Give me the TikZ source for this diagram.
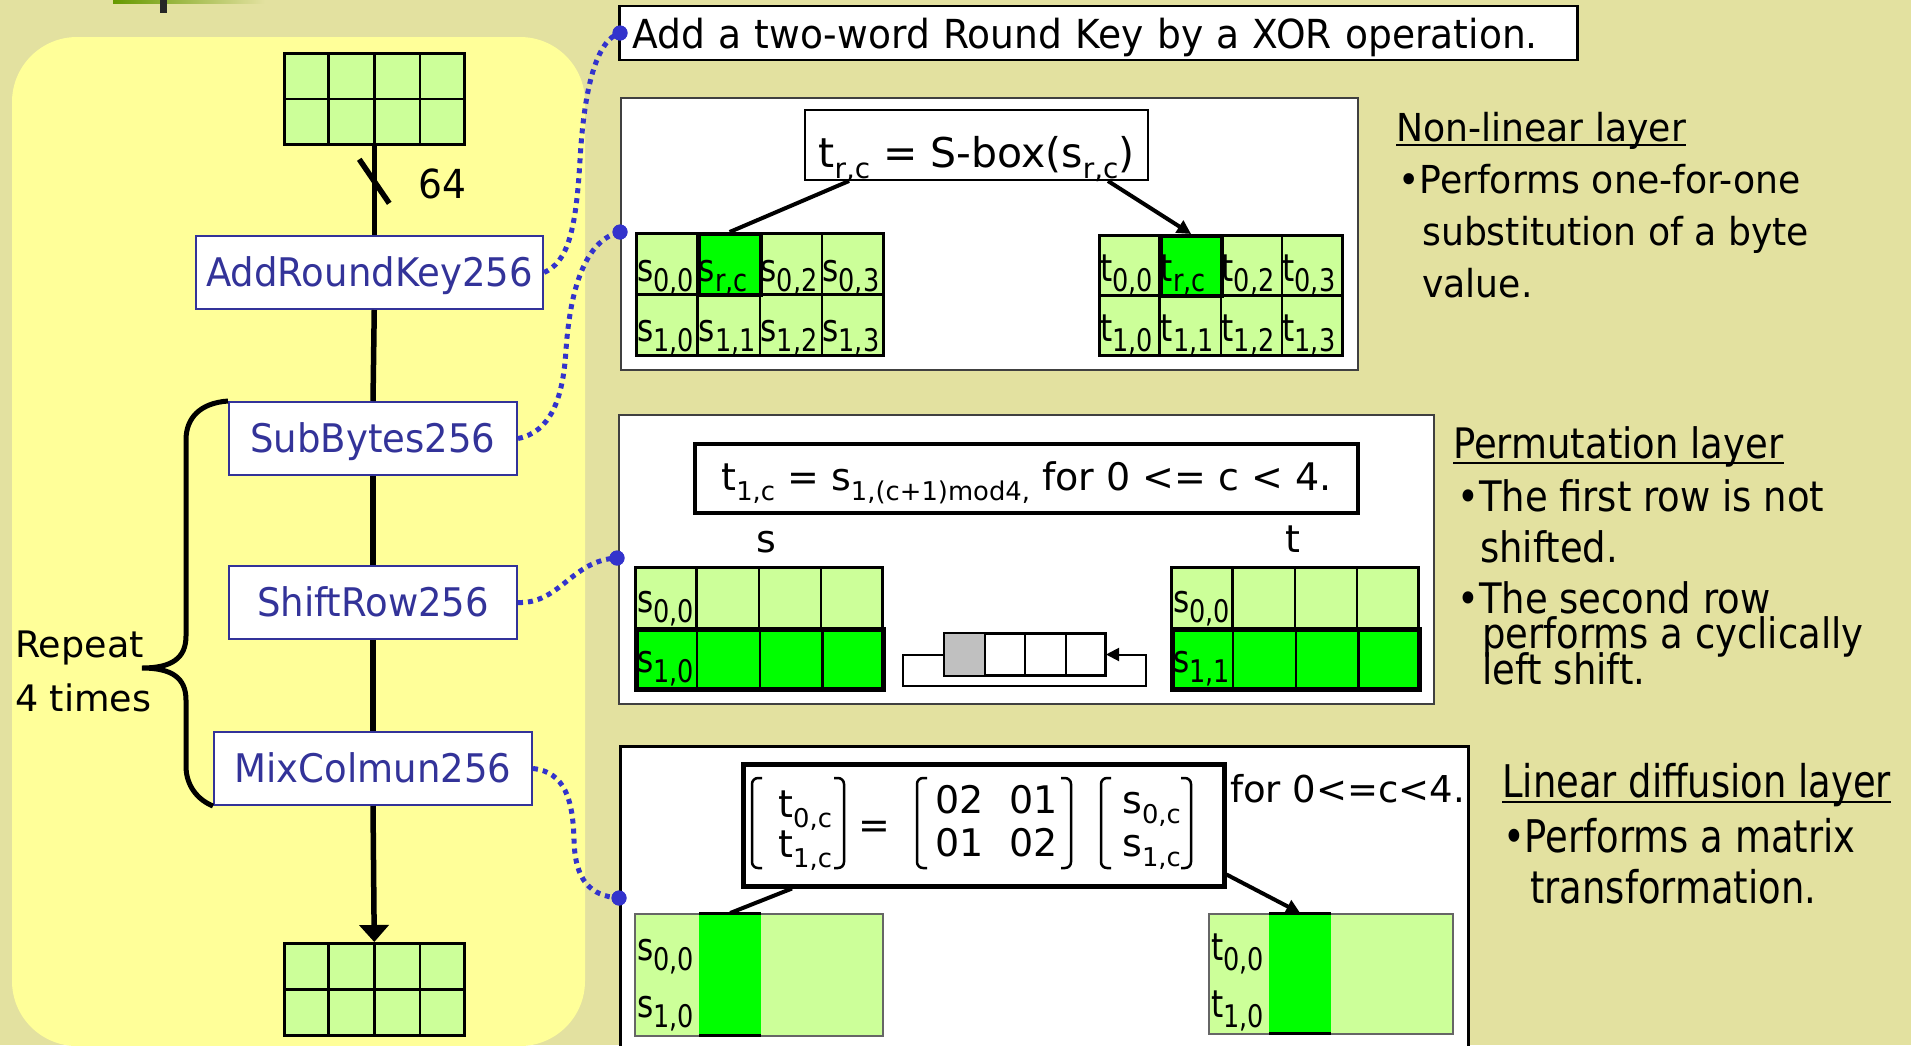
\documentclass[tikz,border=0pt]{standalone}
\usepackage{fontspec}
\usepackage{graphicx}
\setmainfont{DejaVu Sans}
\newfontfamily\ftA{DejaVu Sans}[FakeStretch=0.94]
\newfontfamily\ftB{DejaVu Sans}[FakeStretch=0.88]
\newfontfamily\ftC{DejaVu Sans}[FakeStretch=0.82]
\newfontfamily\ftD{DejaVu Sans}
\usetikzlibrary{arrows.meta,calc}
\definecolor{bgk}{RGB}{227,225,160}
\definecolor{yel}{RGB}{255,255,153}
\definecolor{lgreen}{RGB}{204,255,153}
\definecolor{bgreen}{RGB}{0,255,0}
\definecolor{ntext}{RGB}{51,51,153}
\definecolor{dotblue}{RGB}{51,51,204}
\definecolor{barolive}{RGB}{102,153,0}
\definecolor{rgray}{RGB}{192,192,192}
\newcommand\setfs[1]{\fontsize{#1}{#1}\selectfont}
\newcommand\lsub[1]{\raisebox{-0.27em}{\scalebox{0.68}{#1}}}
\newcommand\csub[1]{\raisebox{-0.27em}{\scalebox{0.82}{#1}}}
% name, x0, y0, x1, y1
\newcommand\cellgrid[5]{%
  \node[draw=black, line width=2.5pt, fill=lgreen, inner sep=0pt, anchor=north west,
        minimum width={(#4)-(#2)}, minimum height={(#5)-(#3)}] (#1) at (#2,#3) {};
  \foreach \k in {1,2,3}{\draw[line width=2.5pt] ($(#1.north west)!\k/4!(#1.north east)$) -- ($(#1.south west)!\k/4!(#1.south east)$);}
  \draw[line width=2.5pt] (#1.west) -- (#1.east);
}
\tikzset{
  blbox/.style={draw=ntext, line width=2pt, fill=white, text=ntext, inner sep=0pt,
    minimum height=73pt, text height=29pt, text depth=2pt, font=\ftA\setfs{39.4}},
  txt/.style={inner sep=0pt, anchor=base west},
  celltxt/.style={inner sep=0pt, anchor=base west, font=\ftC\setfs{38}},
  dotc/.style={draw=dotblue, line width=5pt, dash pattern=on 5pt off 5pt},
  bdot/.style={circle, fill=dotblue, inner sep=0pt, minimum size=15pt},
  panel/.style={draw=black!75, line width=2pt, fill=white, inner sep=0pt, anchor=north west},
  flow/.style={line width=5.5pt},
  hl/.style={draw=black, line width=4.5pt, fill=bgreen, inner sep=0pt, anchor=north west},
  thin/.style={line width=4pt},
}
\begin{document}
\begin{tikzpicture}[x=1pt,y=-1pt]
\useasboundingbox (0,0) rectangle (1911,1045);
\clip (0,0) rectangle (1911,1045);
\fill[bgk] (0,0) rectangle (1911,1045);
% top-left remnant
\shade[left color=barolive, right color=bgk] (113,0) rectangle (265,3.5);
\fill[black!85] (160,0) rectangle (167,13);
% yellow panel
\fill[yel, rounded corners=65pt] (12,37) rectangle (585,1046);

% main column
\cellgrid{gA}{283}{52}{463}{143}
\cellgrid{gB}{283}{942}{463}{1034}
\node[blbox, minimum width=347pt] (ark) at (369.5,272.5) {AddRoundKey256};
\node[blbox, minimum width=288pt] (sb) at (373,438.5) {SubBytes256};
\node[blbox, minimum width=288pt] (sr) at (373,602.5) {ShiftRow256};
\node[blbox, minimum width=318pt] (mc) at (373,768.5) {MixColmun256};
\draw[flow] (gA.south) -- (gA.south |- ark.north);
\draw[flow] (gA.south |- ark.south) -- (sb.north);
\draw[flow] (sb.south) -- (sr.north);
\draw[flow] (sr.south) -- (mc.north);
\draw[flow, -{Triangle[width=29pt,length=17pt]}] (mc.south) -- (gB.north);
\coordinate (sl) at ($(gA.south)!0.4!(gA.south |- ark.north)$);
\draw[line width=5.5pt] ([shift={(-15,-22)}]sl) -- ([shift={(15,22)}]sl);
\node[txt, font=\ftA\setfs{40}] (n64) at (418,198) {64};

% brace
\draw[line width=5pt] (sb.north west) .. controls (200,403) and (186,418) .. (186,440)
  -- (186,636) .. controls (186,658) and (172,668) .. (142,668)
  .. controls (172,668) and (186,678) .. (186,700)
  -- (186,766) .. controls (186,786) and (198,800) .. (mc.south west);
\node[txt, font=\ftD\setfs{36.5}] (rep1) at (15,657) {Repeat};
\node[txt, font=\ftD\setfs{36.5}] (rep2) at (15,711) {4 times};

% top description box
\node[draw=black, line width=2.5pt, fill=white, inner xsep=13pt, inner ysep=0pt,
      text width=932pt, minimum height=54pt, text height=30pt, text depth=0pt,
      anchor=west, font=\ftA\setfs{40}] (addk) at (618,33) {Add a two-word Round Key by a XOR operation.};

% ---------- panel 1 : S-box
\node[panel, minimum width=737pt, minimum height=272pt] (p1) at (620,97) {};
\node[draw=black, line width=2pt, fill=white, minimum width=343pt, minimum height=70pt,
      inner sep=0pt, text height=44pt, text depth=0pt, font=\ftD\setfs{41}] (f1) at (976.5,145)
      {t\lsub{r,c} = S-box(s\lsub{r,c})};
\cellgrid{gC}{635}{232}{882}{354}
\cellgrid{gD}{1098}{234}{1341}{354}
\node[hl, line width=4pt, minimum width=61.75pt, minimum height=61pt] (chl) at (696.75,232) {};
\node[hl, line width=4pt, minimum width=60.75pt, minimum height=60pt] (dhl) at (1158.75,234) {};
\foreach \lab [count=\i from 0] in {{0,0},{r,c},{0,2},{0,3}}
  \node[celltxt] (cs0\i) at ({637+61.75*\i},281) {s\csub{\lab}};
\foreach \lab [count=\i from 0] in {{1,0},{1,1},{1,2},{1,3}}
  \node[celltxt] (cs1\i) at ({637+61.75*\i},341) {s\csub{\lab}};
\foreach \lab [count=\i from 0] in {{0,0},{r,c},{0,2},{0,3}}
  \node[celltxt] (ct0\i) at ({1100+60.75*\i},281) {t\csub{\lab}};
\foreach \lab [count=\i from 0] in {{1,0},{1,1},{1,2},{1,3}}
  \node[celltxt] (ct1\i) at ({1100+60.75*\i},341) {t\csub{\lab}};
\draw[thin] ($(f1.south west)+(45,0)$) -- (chl.north);
\draw[thin, -{Triangle[width=14pt,length=14pt]}] ($(f1.south east)+(-41,0)$) -- (dhl.north);

% ---------- panel 2 : shift row
\node[panel, minimum width=815pt, minimum height=289pt] (p2) at (618,414) {};
\node[draw=black, line width=4.5pt, fill=white, minimum width=663pt, minimum height=69pt,
      inner sep=0pt, text height=23pt, text depth=0pt, font=\ftD\setfs{38}] (f2) at (1026.5,478.5)
      {t\lsub{1,c} = s\lsub{1,(c+1)mod4,} for 0 <= c < 4.};
\node[inner sep=0pt, anchor=base, font=\ftD\setfs{38}] (ls) at (766,552) {s};
\node[inner sep=0pt, anchor=base, font=\ftD\setfs{38}] (lt) at (1293,552) {t};
\cellgrid{gE}{634}{566}{881}{687}
\cellgrid{gF}{1170}{566}{1417}{687}
\node[hl, minimum width=247pt, minimum height=60pt] (eh) at (634,627) {};
\node[hl, minimum width=247pt, minimum height=60pt] (fh) at (1170,627) {};
\foreach \k in {1,2,3}{
  \draw[line width=2.5pt] ($(eh.north west)!\k/4!(eh.north east)$) -- ($(eh.south west)!\k/4!(eh.south east)$);
  \draw[line width=2.5pt] ($(fh.north west)!\k/4!(fh.north east)$) -- ($(fh.south west)!\k/4!(fh.south east)$);
}
\node[celltxt] (e00) at (637,612) {s\csub{0,0}};
\node[celltxt] (e10) at (637,672) {s\csub{1,0}};
\node[celltxt] (f00) at (1173,612) {s\csub{0,0}};
\node[celltxt] (f10) at (1173,672) {s\csub{1,1}};
% shift register
\node[draw=black, line width=2pt, fill=white, minimum width=160pt, minimum height=41pt,
      inner sep=0pt, anchor=north west] (reg) at (944,633) {};
\fill[rgray] (reg.north west) rectangle ($(reg.south west)!0.25!(reg.south east)$);
\foreach \k in {1,2,3}
  \draw[line width=2pt] ($(reg.north west)!\k/4!(reg.north east)$) -- ($(reg.south west)!\k/4!(reg.south east)$);
\draw[line width=2pt] (reg.north west) rectangle (reg.south east);
\coordinate (lpA) at (903,686);
\coordinate (lpB) at (1146,686);
\draw[line width=2pt, -{Triangle[width=13pt,length=13pt]}] (reg.west) -| (lpA) -- (lpB) |- (reg.east);

% ---------- panel 3 : mix column
\node[panel, draw=black, line width=2.5pt, minimum width=848pt, minimum height=320pt] (p3) at (619,745) {};
\node[draw=black, line width=4.5pt, fill=white, minimum width=481pt, minimum height=122pt,
      inner sep=0pt, anchor=north west] (f3) at (741,762) {};
\begin{scope}[every node/.style={inner sep=0pt, anchor=base west, font=\ftD\setfs{38}}]
\node (mt0) at (778,817) {t\lsub{0,c}};
\node (mt1) at (778,857) {t\lsub{1,c}};
\node[anchor=center] (meq) at (874,830) {=};
\node (m00) at (935,813) {02};
\node (m01) at (1009,813) {01};
\node (m10) at (935,856) {01};
\node (m11) at (1009,856) {02};
\node (ms0) at (1122,813) {s\lsub{0,c}};
\node (ms1) at (1122,856) {s\lsub{1,c}};
\end{scope}
\begin{scope}[line width=2.5pt, rounded corners=6pt]
\foreach \xl/\xr in {752/844, 917/1071, 1101/1191}{
  \draw (\xl+10,778) -- (\xl,778) -- (\xl,868) -- (\xl+10,868);
  \draw (\xr-10,778) -- (\xr,778) -- (\xr,868) -- (\xr-10,868);
}
\end{scope}
\node[txt, font=\ftD\setfs{37}] (for3) at (1230,802) {for 0<=c<4.};
\node[draw=black!60, line width=1.5pt, fill=lgreen, inner sep=0pt, anchor=north west,
      minimum width=248pt, minimum height=122pt] (gG) at (634,913) {};
\node[draw=black!60, line width=1.5pt, fill=lgreen, inner sep=0pt, anchor=north west,
      minimum width=244pt, minimum height=120pt] (gH) at (1208,913) {};
\node[fill=bgreen, inner sep=0pt, anchor=north west, minimum width=62pt, minimum height=122pt] (gGh) at (699,913) {};
\node[fill=bgreen, inner sep=0pt, anchor=north west, minimum width=62pt, minimum height=120pt] (gHh) at (1269,913) {};
\draw[line width=3pt] (gGh.north west) -- (gGh.north east);
\draw[line width=3pt] (gGh.south west) -- (gGh.south east);
\draw[line width=3pt] (gHh.north west) -- (gHh.north east);
\draw[line width=3pt] (gHh.south west) -- (gHh.south east);
\node[celltxt] (g00) at (637,960) {s\csub{0,0}};
\node[celltxt] (g10) at (637,1017) {s\csub{1,0}};
\node[celltxt] (h00) at (1211,960) {t\csub{0,0}};
\node[celltxt] (h10) at (1211,1017) {t\csub{1,0}};
\draw[thin] ($(f3.south west)+(51,0)$) -- (gGh.north);
\draw[thin, -{Triangle[width=14pt,length=14pt]}] ($(f3.south east)+(0,-14)$) -- (gHh.north);

% ---------- dotted connectors
\node[bdot] (d1) at (620,33) {};
\node[bdot] (d2) at (620,232) {};
\node[bdot] (d3) at (617,558) {};
\node[bdot] (d4) at (619,898) {};
\draw[dotc] (ark.east) .. controls (568,262) and (576,230) .. (580,160) .. controls (584,90) and (596,40) .. (d1.center);
\draw[dotc] (sb.east) .. controls (550,432) and (563,400) .. (566,350) .. controls (570,290) and (585,240) .. (d2.center);
\draw[dotc] (sr.east) .. controls (560,604) and (572,560) .. (d3.center);
\draw[dotc] (mc.east) .. controls (565,772) and (573,800) .. (574,840) .. controls (575,880) and (590,896) .. (d4.center);
\node[bdot] at (d1) {};
\node[bdot] at (d2) {};
\node[bdot] at (d3) {};
\node[bdot] at (d4) {};

% ---------- right-hand texts
\begin{scope}[every node/.style={inner sep=0pt, anchor=base west, font=\ftA\setfs{38.5}}]
\node (nl0) at (1396,141) {Non-linear layer};
\node (nl1) at (1398,193) {•Performs one-for-one};
\node (nl2) at (1422,245) {substitution of a byte};
\node (nl3) at (1422,297) {value.};
\end{scope}
\draw[line width=2pt] ([yshift=-4pt]nl0.base west) -- ([yshift=-4pt]nl0.base east);
\begin{scope}[every node/.style={inner sep=0pt, anchor=base west, font=\ftB\setfs{42}}]
\node (pl0) at (1453,458) {Permutation layer};
\node (pl1) at (1457,511) {•The first row is not};
\node (pl2) at (1480,562) {shifted.};
\node (pl3) at (1457,613) {•The second row};
\node (pl4) at (1482,648) {performs a cyclically};
\node (pl5) at (1482,684) {left shift.};
\end{scope}
\draw[line width=2pt] ([yshift=-5pt]pl0.base west) -- ([yshift=-5pt]pl0.base east);
\begin{scope}[every node/.style={inner sep=0pt, anchor=base west, font=\ftC\setfs{45}}]
\node (ld0) at (1502,797) {Linear diffusion layer};
\node (ld1) at (1503,852) {•Performs a matrix};
\node (ld2) at (1530,903) {transformation.};
\end{scope}
\draw[line width=2pt] ([yshift=-5pt]ld0.base west) -- ([yshift=-5pt]ld0.base east);
\end{tikzpicture}
\end{document}
